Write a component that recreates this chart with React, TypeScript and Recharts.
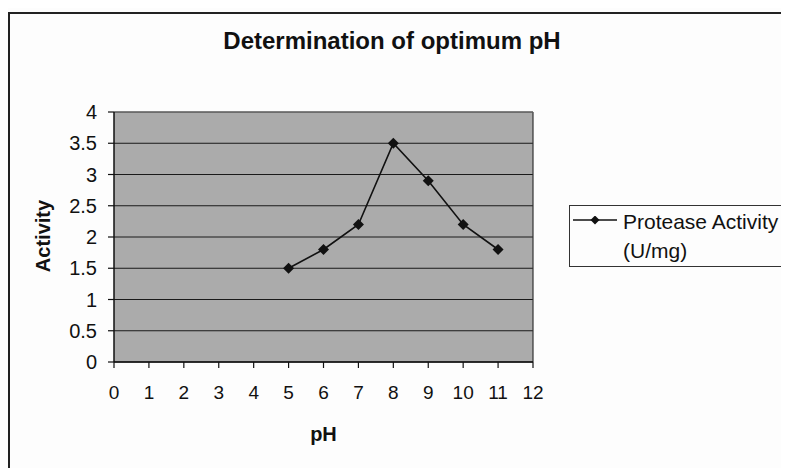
import React from 'react';
import { LineChart, Line, XAxis, YAxis, CartesianGrid, ReferenceLine, Label } from 'recharts';

const phValues = [5, 6, 7, 8, 9, 10, 11];
const activityValues = [1.5, 1.8, 2.2, 3.5, 2.9, 2.2, 1.8];
const xTicks = [0, 1, 2, 3, 4, 5, 6, 7, 8, 9, 10, 11, 12];
const yTicks = [0, 0.5, 1, 1.5, 2, 2.5, 3, 3.5, 4];
const titleText = 'Determination of optimum pH';
const xLabel = 'pH';
const yLabel = 'Activity';
const seriesName = ['Protease Activity', '(U/mg)'];

const data = phValues.map((ph, i) => ({ ph, activity: activityValues[i] }));

const FONT = '"Liberation Sans", Arial, sans-serif';
const INK = '#111';

const Diamond = (props: any) => {
  const { cx, cy, index } = props;
  if (cx == null || cy == null) return <g key={`d-${index}`} />;
  const r = 5.5;
  return (
    <polygon
      key={`d-${index}`}
      points={`${cx},${cy - r} ${cx + r},${cy} ${cx},${cy + r} ${cx - r},${cy}`}
      fill={INK}
    />
  );
};

const YLabelContent = () => (
  <text
    x={35}
    y={228}
    transform="rotate(-90 35 228)"
    textAnchor="middle"
    dominantBaseline="central"
    fontFamily={FONT}
    fontSize={20}
    fontWeight="bold"
    fill={INK}
  >
    {yLabel}
  </text>
);

export default function App() {
  return (
    <div style={{ position: 'relative', width: 781, height: 460, overflow: 'hidden', background: '#fdfdfd', fontFamily: FONT }}>
      <div
        style={{
          position: 'absolute',
          left: 0,
          top: 4,
          width: 820,
          height: 520,
          border: '2px solid #222',
          boxSizing: 'border-box',
        }}
      />
      <div
        style={{
          position: 'absolute',
          left: 0,
          top: 21,
          width: 768,
          textAlign: 'center',
          fontSize: 24,
          lineHeight: '24px',
          fontWeight: 'bold',
          color: INK,
          whiteSpace: 'nowrap',
        }}
      >
        {titleText}
      </div>
      <div style={{ position: 'absolute', left: 0, top: 0 }}>
        <LineChart
          width={781}
          height={460}
          data={data}
          margin={{ top: 104, right: 256, bottom: 46, left: 46 }}
          style={{ fontFamily: FONT }}
        >
          <CartesianGrid horizontal vertical={false} stroke="#1a1a1a" strokeWidth={1} fill="#ababab" fillOpacity={1} />
          <XAxis
            dataKey="ph"
            type="number"
            domain={[0, 12]}
            ticks={xTicks}
            interval={0}
            height={60}
            tickSize={6}
            tickMargin={18}
            axisLine={{ stroke: INK, strokeWidth: 1.5 }}
            tickLine={{ stroke: INK, strokeWidth: 1.2 }}
            tick={{ fill: INK, fontSize: 19, fontFamily: FONT }}
            label={{ value: xLabel, position: 'bottom', offset: 5, fill: INK, fontSize: 20, fontWeight: 'bold', fontFamily: FONT }}
          />
          <YAxis
            type="number"
            domain={[0, 4]}
            ticks={yTicks}
            interval={0}
            width={60}
            tickSize={6}
            tickMargin={11}
            axisLine={{ stroke: INK, strokeWidth: 1.5 }}
            tickLine={{ stroke: INK, strokeWidth: 1.2 }}
            tick={{ fill: INK, fontSize: 20, fontFamily: FONT }}
          >
            <Label content={YLabelContent} />
          </YAxis>
          <ReferenceLine x={12} stroke="#333" strokeWidth={1.2} />
          <ReferenceLine y={4} stroke="#777" strokeWidth={1} />
          <Line
            type="linear"
            dataKey="activity"
            stroke={INK}
            strokeWidth={1.6}
            dot={Diamond}
            activeDot={false}
            isAnimationActive={false}
          />
        </LineChart>
      </div>
      <div
        style={{
          position: 'absolute',
          left: 561,
          top: 197,
          width: 240,
          height: 62,
          border: '1.5px solid #333',
          boxSizing: 'border-box',
        }}
      />
      <svg style={{ position: 'absolute', left: 565, top: 208 }} width={44} height={10}>
        <line x1={0} y1={4} x2={44} y2={4} stroke={INK} strokeWidth={1.6} />
        <polygon points="22,-0.5 26.5,4 22,8.5 17.5,4" fill={INK} />
      </svg>
      <div
        style={{
          position: 'absolute',
          left: 615,
          top: 199,
          fontSize: 21,
          lineHeight: '29px',
          color: INK,
          whiteSpace: 'nowrap',
        }}
      >
        <div>{seriesName[0]}</div>
        <div>{seriesName[1]}</div>
      </div>
    </div>
  );
}
